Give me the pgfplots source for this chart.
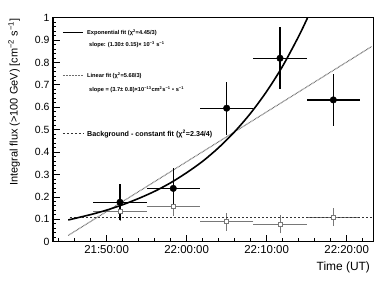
\documentclass[border=0pt]{standalone}
\usepackage{fontspec}
\setmainfont{Liberation Sans}
\usepackage{pgfplots}
\pgfplotsset{compat=1.18}
\definecolor{bggray}{RGB}{120,120,120}
\definecolor{lingray}{RGB}{110,110,110}
\begin{document}
\begin{tikzpicture}
\begin{axis}[
  scale only axis, width=320.5bp, height=224bp,
  xmin=43.3, xmax=83.35, ymin=0, ymax=1,
  axis line style={line width=1.4bp},
  tick align=inside, xtick pos=bottom, ytick pos=left,
  xtick={50,60,70,80},
  xticklabels={21:50:00,22:00:00,22:10:00,22:20:00},
  minor xtick={44,46,48,52,54,56,58,62,64,66,68,72,74,76,78,82},
  ytick={0,0.1,0.2,0.3,0.4,0.5,0.6,0.7,0.8,0.9,1},
  yticklabels={0,0.1,0.2,0.3,0.4,0.5,0.6,0.7,0.8,0.9,1},
  minor y tick num=4,
  major tick length=7bp, minor tick length=3.5bp,
  every tick/.style={black, line width=0.8bp},
  /pgf/number format/assume math mode=true,
  xticklabel style={font=\fontsize{11.5}{12}\selectfont},
  yticklabel style={font=\fontsize{10.5}{12}\selectfont},
  ylabel={Integral flux (>100 GeV) [cm\textsuperscript{−2} s\textsuperscript{−1}]},
  ylabel style={font=\fontsize{11}{12}\selectfont, at={(axis description cs:-0.1217,1.012)}, anchor=east},
  xlabel={Time (UT)},
  xlabel style={font=\fontsize{12}{12}\selectfont, at={(axis description cs:1,-0.114)}, anchor=east},
  clip=true,
]
% background points (open squares)
\addplot[only marks, mark=square*, mark size=2bp, draw=bggray, fill=white, line width=0.7bp,
  error bars/.cd, x dir=both, x explicit, y dir=both, y explicit,
  error mark=none, error bar style={line width=0.7bp, bggray}]
  table[x=x, y=y, x error=ex, y error=ey] {
x      y      ex    ey
51.67  0.137  3.33  0.045
58.33  0.156  3.33  0.042
65.00  0.089  3.33  0.039
71.67  0.078  3.33  0.041
78.33  0.109  3.33  0.040
};
% constant fit
\addplot[black!80, dash pattern=on 2.5bp off 1.5bp, line width=1bp] coordinates {(45.4,0.109) (83.35,0.109)};
% linear fit
\addplot[lingray, dash pattern=on 0.8bp off 0.7bp, line width=1.1bp] coordinates {(45.2,0.028) (83.1,0.871)};
% exponential fit
\addplot[black, line width=1.6bp, smooth] coordinates {
(45.2,0.097) (48,0.121) (50,0.141) (52,0.165) (54,0.193) (56,0.225) (58,0.263)
(60,0.308) (62,0.359) (64,0.420) (66,0.491) (68,0.574) (70,0.671) (72,0.784)
(74,0.917) (75.1,0.999)};
% flux points
\addplot[only marks, mark=*, mark size=3.3bp, black,
  error bars/.cd, x dir=both, x explicit, y dir=both, y explicit,
  error mark=none, error bar style={line width=1.2bp, black}]
  table[x=x, y=y, x error=ex, y error=ey] {
x      y      ex    ey
51.67  0.176  3.33  0.080
58.33  0.238  3.33  0.090
65.00  0.596  3.33  0.119
71.67  0.819  3.33  0.138
78.33  0.633  3.33  0.117
};
% legend-like annotations
\draw[black, line width=1.6bp] (axis description cs:0.031,0.934) -- (axis description cs:0.094,0.934);
\node[anchor=west, inner sep=0pt, font=\fontsize{5.7}{6}\selectfont\bfseries] at (axis description cs:0.106,0.934) {Exponential fit (χ\textsuperscript{2}=4.45/3)};
\node[anchor=west, inner sep=0pt, font=\fontsize{5.7}{6}\selectfont\bfseries] at (axis description cs:0.112,0.880) {slope: (1.30± 0.15)× 10\textsuperscript{−3} s\textsuperscript{−1}};
\draw[lingray, dash pattern=on 0.8bp off 0.7bp, line width=1.1bp] (axis description cs:0.031,0.742) -- (axis description cs:0.094,0.742);
\node[anchor=west, inner sep=0pt, font=\fontsize{5.7}{6}\selectfont\bfseries] at (axis description cs:0.106,0.742) {Linear fit (χ\textsuperscript{2}=5.68/3)};
\node[anchor=west, inner sep=0pt, font=\fontsize{5.7}{6}\selectfont\bfseries] at (axis description cs:0.112,0.679) {slope = (3.7± 0.8)×10\textsuperscript{−13}cm\textsuperscript{2}s\textsuperscript{−1} • s\textsuperscript{−1}};
\draw[black!80, dash pattern=on 2.5bp off 1.5bp, line width=1bp] (axis description cs:0.031,0.481) -- (axis description cs:0.094,0.481);
\node[anchor=west, inner sep=0pt, font=\fontsize{7.2}{8}\selectfont\bfseries] at (axis description cs:0.106,0.481) {Background - constant fit (χ\textsuperscript{2}=2.34/4)};
\node[anchor=south west, inner sep=0pt, font=\fontsize{11}{12}\selectfont] at (axis description cs:0.0,1.012) {×10\textsuperscript{−9}};
\end{axis}
\pgfresetboundingbox
\path ([shift={(-53bp,-39.3bp)}]current axis.south west) rectangle ([shift={(8.5bp,17.7bp)}]current axis.north east);
\end{tikzpicture}
\end{document}
